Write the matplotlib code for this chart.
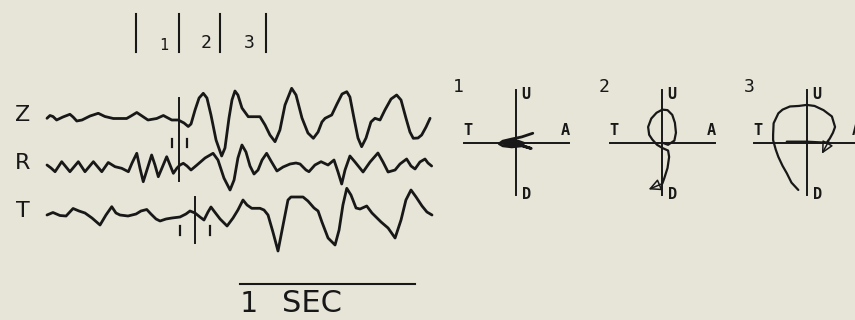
import matplotlib
matplotlib.use("Agg")
import matplotlib.pyplot as plt
from matplotlib.patches import FancyArrowPatch

paper = '#e7e5d7'
ink = '#181818'

# three-component record, time in s, amplitude in counts
z_t = [0.000, 0.017, 0.034, 0.055, 0.091, 0.131, 0.149, 0.170, 0.200, 0.246,
       0.293, 0.331, 0.379, 0.455, 0.480, 0.513, 0.543, 0.577, 0.627, 0.665,
       0.686, 0.713, 0.750, 0.783, 0.807, 0.823, 0.846, 0.869, 0.893, 0.914,
       0.937, 0.966, 0.998, 1.017, 1.040, 1.057, 1.074, 1.091, 1.114, 1.150,
       1.217, 1.246, 1.274, 1.303, 1.331, 1.360, 1.398, 1.423, 1.457, 1.491,
       1.522, 1.549, 1.571, 1.589, 1.627, 1.657, 1.686, 1.713, 1.731, 1.754,
       1.777, 1.798, 1.823, 1.851, 1.874, 1.903, 1.931, 1.966, 1.998, 2.023,
       2.051, 2.074, 2.093, 2.120, 2.141, 2.166, 2.189]
z_a = [-0.3, 2.5, 1.5, -2, 1, 3.7, 1, -3, -2, 2,
       4.7, 1.5, -0.5, -0.5, 2, 5.5, 2, -2, -0.5, 2.5,
       0.5, -2, -2, -5, -8.5, -6, 8, 20, 24.7, 20,
       3, -22, -38, -30, 0, 18, 27, 23, 10, 1.3,
       1.3, -7, -17, -23.7, -12, 13, 29.7, 23, 0, -15,
       -20.3, -14, -4, -0.3, 3, 14, 24, 26.3, 21, 0,
       -20, -28.7, -20, -4, -0.3, -2, 8, 19, 23, 18,
       0, -14, -20.3, -20, -17, -9, -0.3]

r_t = [0.000, 0.023, 0.046, 0.084, 0.131, 0.179, 0.217, 0.265, 0.313, 0.350,
       0.389, 0.427, 0.465, 0.486, 0.513, 0.531, 0.550, 0.571, 0.598, 0.617,
       0.636, 0.657, 0.684, 0.703, 0.722, 0.743, 0.760, 0.779, 0.800, 0.823,
       0.857, 0.903, 0.949, 0.977, 1.011, 1.046, 1.069, 1.091, 1.114, 1.137,
       1.160, 1.183, 1.206, 1.229, 1.255, 1.280, 1.314, 1.349, 1.389, 1.423,
       1.446, 1.480, 1.497, 1.531, 1.566, 1.606, 1.640, 1.663, 1.684, 1.703,
       1.731, 1.760, 1.806, 1.846, 1.891, 1.920, 1.949, 1.989, 2.017, 2.055,
       2.080, 2.103, 2.131, 2.160, 2.177, 2.198]
r_a = [1, -2, -5.7, 4.3, -5.7, 4.3, -5.7, 4.3, -5.7, 3.5,
       -0.7, -2.3, -5.7, 3, 12.7, -2, -15.7, -4, 11, 1,
       -10.7, -2, 9.3, 1, -7.3, -2, 1, 2.7, 0, -4,
       1, 8, 12.7, 6, -12, -24, -14, 8, 21, 14,
       0, -8, -4, 6, 12.7, 5, -5, -1, 2, 3,
       2, -4, -5.7, 1, 4.3, 1, 6, -6, -18, -4,
       10, 4, -6, 4, 13, 4, -6, -4, 2, 7,
       0, -3, 4, 7, 3, 0]

t_t = [0.000, 0.034, 0.074, 0.109, 0.149, 0.183, 0.217, 0.257, 0.303, 0.337,
       0.370, 0.394, 0.417, 0.463, 0.509, 0.537, 0.570, 0.594, 0.623, 0.646,
       0.680, 0.714, 0.760, 0.794, 0.817, 0.846, 0.874, 0.897, 0.920, 0.937,
       0.954, 0.989, 1.029, 1.063, 1.091, 1.120, 1.143, 1.170, 1.217, 1.240,
       1.263, 1.291, 1.320, 1.349, 1.377, 1.394, 1.463, 1.491, 1.526, 1.549,
       1.571, 1.606, 1.646, 1.669, 1.691, 1.713, 1.737, 1.766, 1.789, 1.827,
       1.857, 1.909, 1.949, 1.989, 2.023, 2.051, 2.080, 2.109, 2.143, 2.171,
       2.200]
t_a = [-1, 1.5, -1.5, -2, 5.5, 3, 1, -4, -11, -1,
       7.3, 1, -1, -2, 0, 3, 4.5, 0, -5, -7,
       -5, -4, -3, 0, 3, 1, -3, -6, 2, 7,
       3, -5, -12, -4, 4, 14, 9, 5.7, 5.7, 4,
       -1, -18, -37, -11, 14, 17, 17, 13, 6, 3,
       -8, -24, -31, -16, 9, 25.7, 19, 6, 5, 8,
       1, -8, -14, -24, -6, 14, 24, 17, 8, 2,
       -1]

components = ['Z', 'R', 'T']
offsets = [0, -48, -96]

# analysis windows (s) and picks
window_edges = [0.509, 0.754, 0.989, 1.250]
window_names = ['1', '2', '3']
zr_pick = 0.754
zr_marks = [0.713, 0.798]
t_pick = 0.846
t_marks = [0.760, 0.931]
scale_start, scale_len = 1.103, 1.0

# particle motion in each window (radial, vertical), normalised
pm1_r = [0.32, 0.11, -0.08, -0.25, -0.32, -0.25, -0.08, 0.11, 0.29, 0.08,
         -0.11, -0.23, -0.11, 0.04, 0.15, 0.00, -0.15]
pm1_z = [0.18, 0.11, 0.07, 0.03, -0.02, -0.06, -0.08, -0.06, -0.11, -0.04,
         -0.02, -0.01, 0.03, 0.03, -0.01, -0.04, -0.04]
pm2_r = [0.00, 0.11, 0.23, 0.26, 0.24, 0.19, 0.10, 0.00, -0.11, -0.21,
         -0.27, -0.25, -0.19, -0.10, 0.00, 0.11, 0.13, 0.10, 0.04, 0.00]
pm2_z = [0.00, -0.04, 0.04, 0.19, 0.38, 0.53, 0.62, 0.63, 0.57, 0.46,
         0.30, 0.15, 0.06, -0.04, -0.10, -0.15, -0.27, -0.48, -0.67, -0.78]
pm3_r = [-0.38, 0.00, 0.38, 0.44, 0.50, 0.54, 0.48, 0.32, 0.15, 0.00,
         -0.15, -0.32, -0.46, -0.54, -0.63, -0.64, -0.64, -0.59, -0.54, -0.46,
         -0.38, -0.29, -0.16]
pm3_z = [0.02, 0.02, 0.00, 0.08, 0.19, 0.30, 0.50, 0.62, 0.70, 0.72,
         0.70, 0.69, 0.63, 0.56, 0.37, 0.15, 0.05, -0.13, -0.27, -0.44,
         -0.58, -0.76, -0.90]
pm_arrows = [None, [(0.00, -0.78), (-0.26, -0.89)], [(0.42, 0.03), (0.29, -0.21)]]
pm_centers = [516, 662.3, 806.7]

fig = plt.figure(figsize=(8.55, 3.2), dpi=100)
fig.patch.set_facecolor(paper)
ax = fig.add_axes([0, 0, 1, 1])
ax.set_xlim(-47 / 175, 808 / 175)
ax.set_ylim(-202, 118)
ax.axis('off')

traces = [(z_t, z_a), (r_t, r_a), (t_t, t_a)]
for name, off, (tt, aa) in zip(components, offsets, traces):
    ax.plot(tt, [a + off for a in aa], color=ink, lw=2.0,
            solid_joinstyle='round', solid_capstyle='round')
    ax.text(-0.14, off + 3, name, fontsize=16, color=ink, ha='center', va='center')

# picks on Z/R and T
ax.plot([zr_pick, zr_pick], [20, -63], color=ink, lw=1.4)
for m in zr_marks:
    ax.plot([m, m], [-21, -29], color=ink, lw=1.6)
ax.plot([t_pick, t_pick], [-79, -125], color=ink, lw=1.4)
for m in t_marks:
    ax.plot([m, m], [-108, -117], color=ink, lw=1.6)

# window bars along the top
for e in window_edges:
    ax.plot([e, e], [104, 66], color=ink, lw=1.5)
for i, nm in enumerate(window_names):
    mid = 0.5 * (window_edges[i] + window_edges[i + 1])
    ax.text(mid + 0.035, 75 if i else 73, nm, fontsize=13 if i else 11,
            family='DejaVu Sans Mono', color=ink, ha='center', va='center')

# time scale
ax.plot([scale_start, scale_start + scale_len], [-166, -166], color=ink, lw=1.5)
ax.text(scale_start + 0.046, -186, '1', fontsize=21, family='DejaVu Sans Mono',
        color=ink, ha='center', va='center')
ax.text(scale_start + 0.414, -186, 'SEC', fontsize=22, color=ink, ha='center', va='center')

# particle motion diagrams
span = 1.45
half = 52.5
pms = [(pm1_r, pm1_z), (pm2_r, pm2_z), (pm3_r, pm3_z)]
for k, (cx, (pr, pz)) in enumerate(zip(pm_centers, pms)):
    w = 2 * span * half
    pax = fig.add_axes([(cx - span * half) / 855, (320 - 142.7 - span * half) / 320,
                        w / 855, w / 320])
    pax.set_xlim(-span, span)
    pax.set_ylim(-span, span)
    pax.axis('off')
    pax.patch.set_alpha(0)
    pax.plot([-1, 1], [0, 0], color=ink, lw=1.4)
    pax.plot([0, 0], [-1, 1], color=ink, lw=1.4)
    pax.plot(pr, pz, color=ink, lw=2.0 if k == 0 else 1.6,
             solid_joinstyle='round', solid_capstyle='round')
    if pm_arrows[k] is not None:
        (x0, y0), (x1, y1) = pm_arrows[k]
        pax.add_patch(FancyArrowPatch((x0, y0), (x1, y1), arrowstyle='-|>',
                                      mutation_scale=18, ec=ink, fc='none', lw=1.1,
                                      shrinkA=0, shrinkB=0))
    kw = dict(fontsize=11, family='DejaVu Sans Mono', fontweight='bold',
              color=ink, va='center', ha='center', clip_on=False)
    pax.text(0.19, 0.92, 'U', **kw)
    pax.text(0.20, -0.98, 'D', **kw)
    pax.text(-0.92, 0.23, 'T', **kw)
    pax.text(0.94, 0.23, 'A', **kw)
    pax.text(-1.10, 1.07, str(k + 1), fontsize=13, family='DejaVu Sans Mono',
             color=ink, ha='center', va='center')

fig.savefig('out.png', dpi=100, facecolor=paper)
